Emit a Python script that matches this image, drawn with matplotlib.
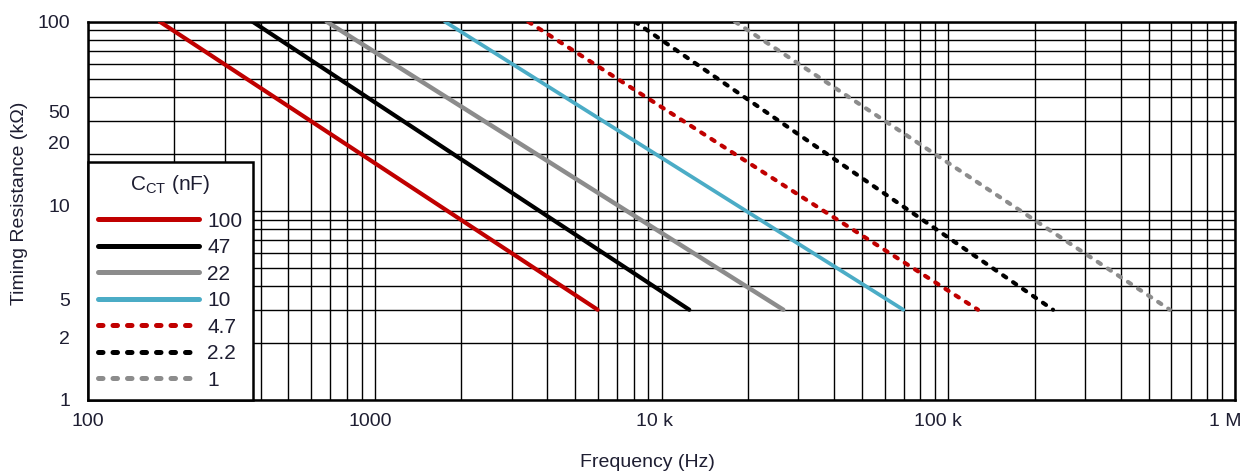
import numpy as np
import matplotlib
matplotlib.use("Agg")
import matplotlib.pyplot as plt
from matplotlib.ticker import LogLocator, NullFormatter, FixedLocator, FixedFormatter

plt.rcParams["font.family"] = ["Liberation Sans", "DejaVu Sans"]
plt.rcParams["mathtext.default"] = "regular"

# Capacitor values (legend) and line end points
caps = ["100", "47", "22", "10", "4.7", "2.2", "1"]
f_start = [178, 375, 680, 1758, 3430, 8080, 18050]      # Hz at R = 100 kOhm
f_end = [5990, 12500, 26600, 69700, 127000, 232000, 593000]  # Hz at R = 3 kOhm
r_start = [100, 100, 100, 100, 100, 100, 100]
r_end = [3, 3, 3, 3, 3, 3, 3]

colors = ["#c00000", "#000000", "#8c8c8c", "#4bacc6", "#c00000", "#000000", "#8c8c8c"]
dotted = [False, False, False, False, True, True, True]
widths = [3.0, 3.0, 3.2, 2.7, 3.0, 3.0, 3.0]

# Tick labels as they sit in the picture
x_tick_pos = [100, 963, 9490, 92100, 923000]
x_tick_lbl = ["100", "1000", "10 k", "100 k", "1 M"]
y_tick_pos = [100, 33.4, 22.9, 10.7, 3.41, 2.14, 1]
y_tick_lbl = ["100", "50", "20", "10", "5", "2", "1"]

txt_color = "#1e1e32"

fig = plt.figure(figsize=(12.46, 4.72), dpi=100)
ax = fig.add_axes([88 / 1246, 1 - 400 / 472, 1147 / 1246, 378.3 / 472])
ax.set_xscale("log")
ax.set_yscale("log")
ax.set_xlim(100, 1e6)
ax.set_ylim(1, 100)

for i in range(len(caps)):
    if dotted[i]:
        ax.plot([f_start[i], f_end[i]], [r_start[i], r_end[i]], color=colors[i],
                lw=widths[i], linestyle=(0, (0.9, 2.0)), dash_capstyle="round",
                label=caps[i], zorder=3)
    else:
        ax.plot([f_start[i], f_end[i]], [r_start[i], r_end[i]], color=colors[i],
                lw=widths[i], solid_capstyle="round", label=caps[i], zorder=3)

# grid from minor locators (all 1..9 x decade)
ax.xaxis.set_minor_locator(LogLocator(base=10, subs=np.arange(1, 10), numticks=100))
ax.yaxis.set_minor_locator(LogLocator(base=10, subs=np.arange(1, 10), numticks=100))
ax.xaxis.set_minor_formatter(NullFormatter())
ax.yaxis.set_minor_formatter(NullFormatter())
ax.xaxis.remove_overlapping_locs = False
ax.yaxis.remove_overlapping_locs = False
ax.grid(True, which="minor", color="black", lw=1.0)
ax.grid(False, which="major")

ax.xaxis.set_major_locator(FixedLocator(x_tick_pos))
ax.xaxis.set_major_formatter(FixedFormatter(x_tick_lbl))
ax.yaxis.set_major_locator(FixedLocator(y_tick_pos))
ax.yaxis.set_major_formatter(FixedFormatter(y_tick_lbl))
ax.tick_params(which="both", length=0)
ax.tick_params(axis="x", which="major", pad=9, labelsize=14, labelcolor=txt_color)
ax.tick_params(axis="y", which="major", pad=13, labelsize=14, labelcolor=txt_color)

for s in ax.spines.values():
    s.set_linewidth(1.8)
    s.set_color("black")

ax.set_xlabel("Frequency (Hz)", fontsize=14, color=txt_color, va="center")
ax.xaxis.set_label_coords(0.488, -0.164)
ax.set_ylabel("Timing Resistance (k\u03a9)", fontsize=14, color=txt_color, va="center")
ax.yaxis.set_label_coords(-0.0593, 0.521)

leg = ax.legend(loc="lower left", bbox_to_anchor=(0, 0), borderaxespad=0,
                title=r"C$_{CT}$ (nF)", fontsize=15, title_fontsize=15,
                handlelength=4.85, handletextpad=0.38, labelspacing=0.36,
                borderpad=0.5, fancybox=False, framealpha=1, edgecolor="black")
leg._legend_box.sep = 0.36 * 15 + 6  # extra room under the title
leg.get_frame().set_linewidth(1.8)
leg.set_zorder(5)
for t in leg.get_texts():
    t.set_color(txt_color)
leg.get_title().set_color(txt_color)
for h in leg.get_lines():
    h.set_linewidth(3.6)

fig.savefig("out.png", dpi=100)
